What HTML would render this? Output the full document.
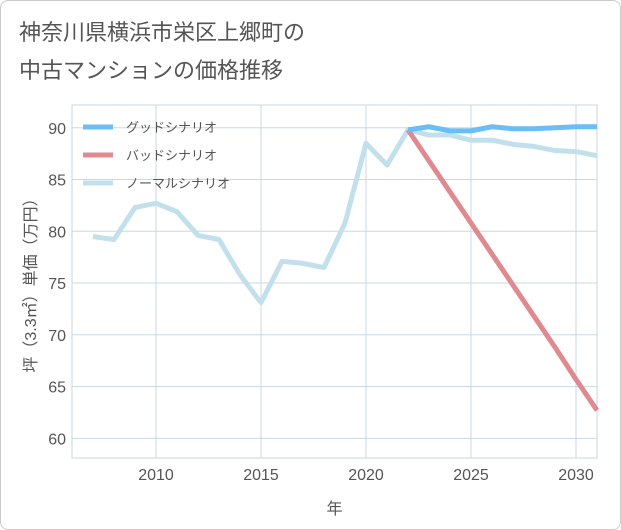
<!DOCTYPE html>
<html><head><meta charset="utf-8"><style>
body{margin:0;background:#fff;}
#wrap{position:relative;width:619px;height:528px;border:1px solid #ccc;border-radius:8px;overflow:hidden;background:#fff;font-family:"Liberation Sans","Noto Sans CJK JP",sans-serif;}
.title{position:absolute;left:18px;font-size:22px;color:#555;white-space:nowrap;}
</style></head><body>
<div id="wrap">
<div class="title" style="top:14px">神奈川県横浜市栄区上郷町の</div>
<div class="title" style="top:52px">中古マンションの価格推移</div>
<svg id="chart" width="621" height="530" style="position:absolute;left:-1px;top:-1px"></svg>
</div>
<script>
const normalYears=[2007,2008,2009,2010,2011,2012,2013,2014,2015,2016,2017,2018,2019,2020,2021,2022,2023,2024,2025,2026,2027,2028,2029,2030,2031];
const normalValues=[79.5,79.2,82.3,82.7,81.9,79.6,79.2,75.8,73.1,77.1,76.9,76.5,80.8,88.5,86.4,89.8,89.3,89.3,88.8,88.8,88.4,88.2,87.8,87.7,87.3];
const goodYears=[2022,2023,2024,2025,2026,2027,2028,2029,2030,2031];
const goodValues=[89.8,90.1,89.7,89.7,90.1,89.9,89.9,90.0,90.1,90.1];
const badYears=[2022,2023,2024,2025,2026,2027,2028,2029,2030,2031];
const badValues=[89.8,86.8,83.8,80.8,77.8,74.8,71.8,68.8,65.7,62.7];
const xTicks=[2010,2015,2020,2025,2030];
const yTicks=[60,65,70,75,80,85,90];
const legendLabels=["グッドシナリオ","バッドシナリオ","ノーマルシナリオ"];

const NS="http://www.w3.org/2000/svg";
const svg=document.getElementById('chart');
const L=72,R=597,T=105,B=458;
const X0=2006,X1=2031,Y0=58.1,Y1=92.2;
function xs(v){return L+(v-X0)/(X1-X0)*(R-L);}
function ys(v){return B-(v-Y0)/(Y1-Y0)*(B-T);}
function mk(tag,attrs){const e=document.createElementNS(NS,tag);for(const k in attrs)e.setAttribute(k,attrs[k]);svg.appendChild(e);return e;}

const frame=mk('rect',{x:L,y:T,width:R-L,height:B-T,fill:'none',stroke:'#c8d4e0'});


xTicks.forEach(t=>{
  const g=mk('line',{x1:xs(t),x2:xs(t),y1:T,y2:B,stroke:'#c8d8e6'});
  
  
  const tx=mk('text',{x:xs(t),y:B+22,'text-anchor':'middle','font-size':'16',fill:'#555'});
  tx.textContent=t;
  
  
});
yTicks.forEach(t=>{
  const g=mk('line',{x1:L,x2:R,y1:ys(t),y2:ys(t),stroke:'#c8d8e6'});
  
  
  const tx=mk('text',{x:L-6,y:ys(t)+6,'text-anchor':'end','font-size':'16',fill:'#555'});
  tx.textContent=t;
  
  
});
const xt=mk('text',{x:(L+R)/2,y:514,'text-anchor':'middle','font-size':'16',fill:'#555'});
xt.textContent='年';


const yt=mk('text',{x:0,y:0,'text-anchor':'middle','font-size':'16',fill:'#555',transform:'translate(36,'+((T+B)/2)+') rotate(-90)'});
yt.textContent='坪（3.3㎡）単価（万円）';



function line(xv,yv,color,name){
  const p=mk('polyline',{points:xv.map((x,i)=>xs(x)+','+ys(yv[i])).join(' '),fill:'none',stroke:color,'stroke-width':'5','stroke-linejoin':'round'});
  
  
}
line(normalYears,normalValues,'#c2e0ec','normal-scenario-line');
line(badYears,badValues,'#e08a90','bad-scenario-line');
line(goodYears,goodValues,'#6bbef5','good-scenario-line');

const lc=['#6bbef5','#e08a90','#c2e0ec'];
legendLabels.forEach((lab,i)=>{
  const y=127+i*28;
  const s=mk('line',{x1:83,x2:113,y1:y,y2:y,stroke:lc[i],'stroke-width':'5'});
  
  
  const t=mk('text',{x:126,y:y+5,'font-size':'13',fill:'#555'});
  t.textContent=lab;
  
  
});
</script>
</body></html>
